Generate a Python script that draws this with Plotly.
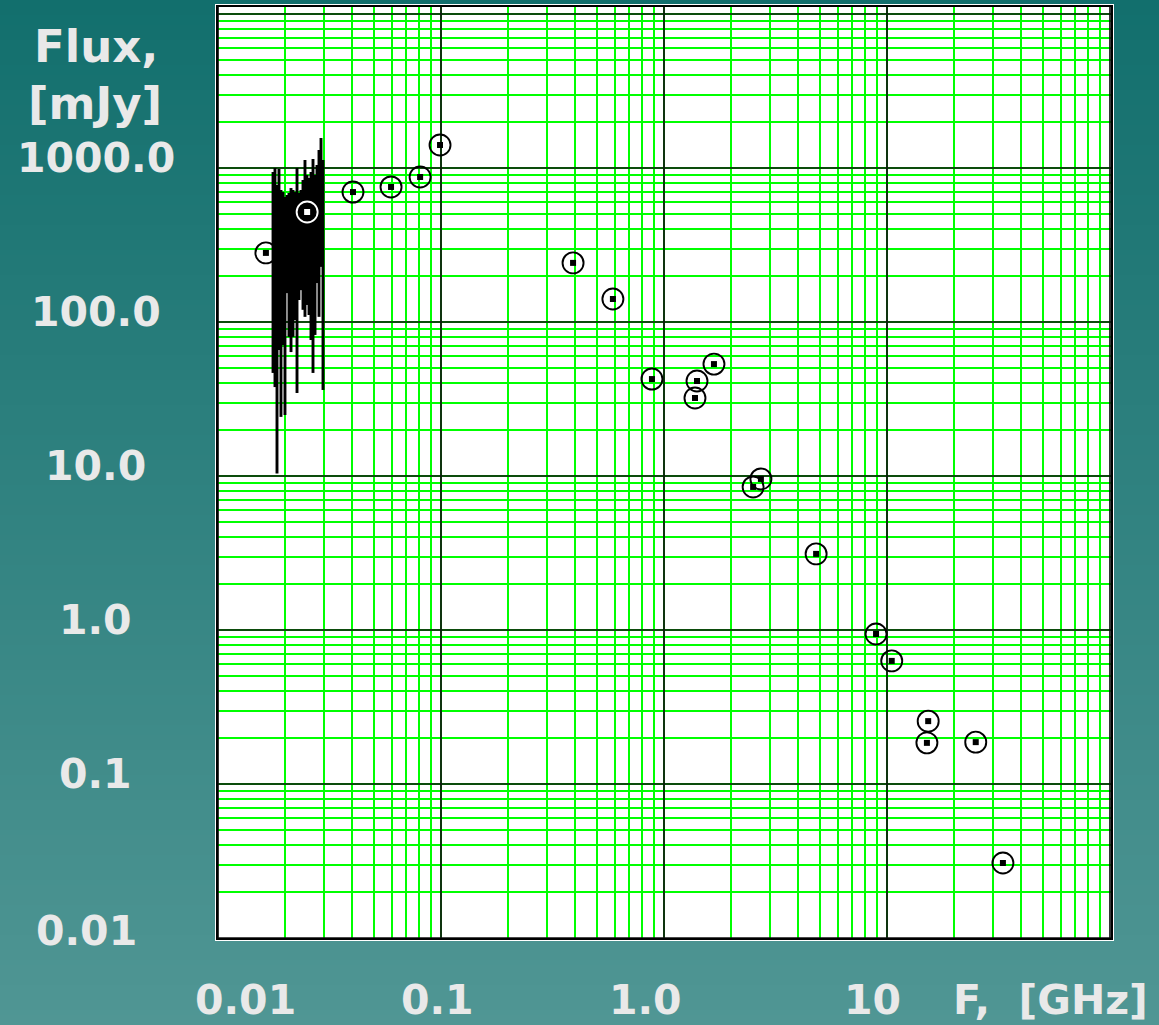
import plotly.graph_objects as go
import math

# ---------------- data ----------------
# measured flux densities (GHz, mJy)
freq_points = [0.0164, 0.0251, 0.0403, 0.0597, 0.0806, 0.099, 0.391, 0.590,
               0.883, 1.406, 1.377, 1.675, 2.51, 2.72, 4.81, 8.93, 10.5,
               15.3, 15.1, 25.0, 33.1]
flux_points = [281, 518, 698, 753, 874, 1410, 242, 141,
               42.6, 41.4, 32.1, 53.3, 8.49, 9.57, 3.12, 0.942, 0.630,
               0.256, 0.185, 0.187, 0.0307]
# index of the point drawn in white (over the low-frequency spectrum)
white_point = 1

# low-frequency spectrum channels (GHz) with min / max flux (mJy)
spec_freq = [0.01765, 0.01801, 0.01839, 0.01877, 0.01916, 0.01956, 0.01997,
             0.02039, 0.02081, 0.02125, 0.02169, 0.02214, 0.02261, 0.02307,
             0.02356, 0.02405, 0.02455, 0.02506, 0.02559, 0.02612, 0.02667,
             0.02723, 0.02779, 0.02837, 0.02897, 0.02957]
spec_hi = [942, 1000, 776, 985, 720, 698, 648, 668, 688, 741, 720, 698, 1000,
           688, 720, 836, 1127, 901, 861, 942, 1144, 901, 1046, 1309, 1566, 1127]
spec_lo = [46.7, 37.8, 10.4, 65.8, 24.2, 70.9, 24.9, 154, 80.0, 63.8, 80.0,
           103, 34.6, 139, 161, 120, 108, 129, 111, 76.4, 46.7, 82.4, 179,
           108, 228, 36.2]

# tick labels
y_tick_vals = [1000, 100, 10, 1, 0.1, 0.01]
y_tick_text = ["1000.0", "100.0", "10.0", "1.0", "0.1", "0.01"]
x_tick_vals = [0.01, 0.1, 1.0, 10]
x_tick_text = ["0.01", "0.1", "1.0", "10"]
x_title = "F,\u00a0\u00a0[GHz]"
y_title = ["Flux,", "[mJy]"]

# grid decades
x_decades = [0.01, 0.1, 1, 10, 100]
y_decades = [0.01, 0.1, 1, 10, 100, 1000, 10000]

# ---------------- layout geometry ----------------
W, H = 1159, 1025
px_left, px_right, px_top, px_bottom = 218, 1111, 7, 938
x_dom = [px_left / W, px_right / W]
y_dom = [(H - px_bottom) / H, (H - px_top) / H]
x_rng = [-2, -2 + (px_right - px_left) / 223.0]
y_rng = [-2, -2 + (px_bottom - px_top) / 154.0]


def all_vals(decades):
    out = []
    for d in decades:
        for k in range(1, 10):
            out.append(d * k)
    return out


fig = go.Figure()

# black decade grid lines (drawn over the green 1..9 grid)
gx, gy = [], []
for d in x_decades:
    gx += [d, d, None]
    gy += [10 ** y_rng[0], 10 ** y_rng[1], None]
for d in y_decades:
    gx += [10 ** x_rng[0], 10 ** x_rng[1], None]
    gy += [d, d, None]
fig.add_trace(go.Scatter(x=gx, y=gy, mode="lines",
                         line=dict(color="#111111", width=1.7),
                         hoverinfo="skip", showlegend=False))

# spectrum as vertical segments
sx, sy = [], []
for f, lo, hi in zip(spec_freq, spec_lo, spec_hi):
    sx += [f, f, None]
    sy += [lo, hi, None]
fig.add_trace(go.Scatter(x=sx, y=sy, mode="lines",
                         line=dict(color="black", width=2.9),
                         hoverinfo="skip", showlegend=False))

cols = ["white" if i == white_point else "black" for i in range(len(freq_points))]
fig.add_trace(go.Scatter(x=freq_points, y=flux_points, mode="markers",
                         marker=dict(symbol="circle-open", size=21, color=cols,
                                     line=dict(width=1.9, color=cols)),
                         showlegend=False))
fig.add_trace(go.Scatter(x=freq_points, y=flux_points, mode="markers",
                         marker=dict(symbol="square", size=6, color=cols,
                                     line=dict(width=0)),
                         showlegend=False))

# background gradient strips
shapes = []
top_c = (18, 111, 109)
bot_c = (80, 150, 148)
N = 205
for i in range(N):
    t = (i + 0.5) / N
    c = tuple(int(round(top_c[k] + (bot_c[k] - top_c[k]) * t)) for k in range(3))
    shapes.append(dict(type="rect", xref="paper", yref="paper", layer="below",
                       x0=0, x1=1, y0=1 - i / N, y1=1 - (i + 1) / N - 0.001,
                       fillcolor="rgb(%d,%d,%d)" % c, line=dict(width=0)))
# white outer frame + plot background
shapes.append(dict(type="rect", xref="paper", yref="paper", layer="below",
                   x0=(px_left - 3) / W, x1=(px_right + 3) / W,
                   y0=(H - px_bottom - 3) / H, y1=(H - px_top + 3) / H,
                   fillcolor="white", line=dict(width=0)))

font = dict(family="DejaVu Sans, Verdana, sans-serif", size=41, color="#e9e9e9")
annotations = []
for v, t in zip(y_tick_vals, y_tick_text):
    xc = 86 if t == "0.01" else 96
    ys = 7 if t == "0.01" else 10
    annotations.append(dict(text="<b>%s</b>" % t, xref="paper", yref="y",
                            x=xc / W, y=math.log10(v), yshift=ys,
                            xanchor="center", yanchor="middle",
                            showarrow=False, font=font))
x_shift = {"0.01": 27, "0.1": -4, "1.0": -19, "10": -15}
for v, t in zip(x_tick_vals, x_tick_text):
    annotations.append(dict(text="<b>%s</b>" % t, xref="x", yref="paper",
                            x=math.log10(v), y=(H - 1000) / H, xshift=x_shift[t],
                            xanchor="center", yanchor="middle",
                            showarrow=False, font=font))
annotations.append(dict(text="<b>%s</b>" % x_title, xref="paper", yref="paper",
                        x=1050 / W, y=(H - 1000) / H, xanchor="center",
                        yanchor="middle", showarrow=False, font=font))
tfont = dict(font)
tfont["size"] = 45
annotations.append(dict(text="<b>%s</b>" % y_title[0], xref="paper", yref="paper",
                        x=96 / W, y=(H - 46) / H, xanchor="center",
                        yanchor="middle", showarrow=False, font=tfont))
annotations.append(dict(text="<b>%s</b>" % y_title[1], xref="paper", yref="paper",
                        x=95 / W, y=(H - 104) / H, xanchor="center",
                        yanchor="middle", showarrow=False, font=tfont))


def axis(decades, rng, dom):
    return dict(type="log", range=rng, domain=dom,
                tickmode="array", tickvals=all_vals(decades),
                showgrid=True, gridcolor="#00ff00", gridwidth=2,
                showticklabels=False, ticks="", zeroline=False,
                showline=True, linecolor="black", linewidth=2, mirror=True)


fig.update_layout(
    width=W, height=H, autosize=False,
    margin=dict(l=0, r=0, t=0, b=0, pad=0, autoexpand=False),
    paper_bgcolor="rgb(50,130,128)", plot_bgcolor="white",
    xaxis=axis(x_decades, x_rng, x_dom),
    yaxis=axis(y_decades, y_rng, y_dom),
    shapes=shapes, annotations=annotations, showlegend=False,
)

fig.write_html("out.html")
